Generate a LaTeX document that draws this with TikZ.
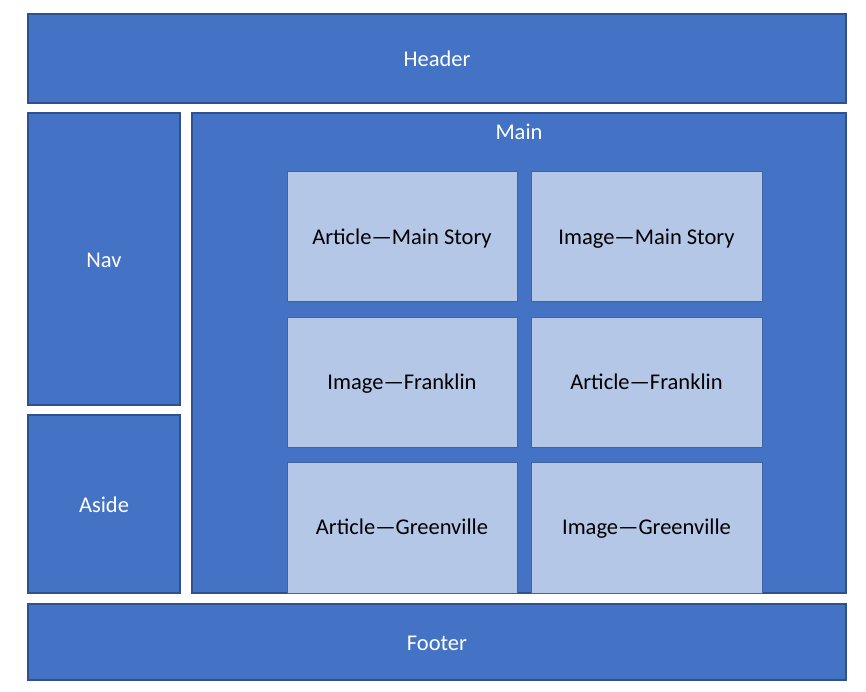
\documentclass[tikz,border=0pt]{standalone}
\usepackage{fontspec}
\setmainfont{Carlito}
\definecolor{darkfill}{HTML}{4472C4}
\definecolor{darkline}{HTML}{2F528F}
\definecolor{lightfill}{HTML}{B4C7E7}
\definecolor{lightline}{HTML}{41649F}
\begin{document}
\begin{tikzpicture}[x=1pt,y=-1pt,
  darkbox/.style={draw=darkline,fill=darkfill,line width=1.2pt},
  lightbox/.style={draw=lightline,fill=lightfill,line width=1pt},
  whitetxt/.style={text=white,font=\fontsize{22.5}{27}\selectfont},
  blacktxt/.style={text=black,font=\fontsize{22.5}{27}\selectfont,text height=0.7em,text depth=0.22em}]
\useasboundingbox (0,0) rectangle (866,691);
\fill[white] (0,0) rectangle (866,691);
% outer boxes
\draw[darkbox] (28,14) rectangle (846,103);
\node[whitetxt] (header) at (437,59) {Header};
\draw[darkbox] (28,113) rectangle (180,405);
\node[whitetxt] (nav) at (104,260) {Nav};
\draw[darkbox] (28,415) rectangle (180,593);
\node[whitetxt] (aside) at (104,505) {Aside};
\draw[darkbox] (192,113) rectangle (846,593);
\node[whitetxt] (main) at (519,131.5) {Main};
\draw[darkbox] (28,604) rectangle (846,680);
\node[whitetxt] (footer) at (437,643) {Footer};
% inner boxes
\draw[lightbox] (287,171) rectangle (517,301);
\node[blacktxt] (a1) at (402,242) {Article—Main Story};
\draw[lightbox] (531,171) rectangle (762,301);
\node[blacktxt] (i1) at (646.5,242) {Image—Main Story};
\draw[lightbox] (287,317) rectangle (517,447);
\node[blacktxt] (i2) at (402,387.5) {Image—Franklin};
\draw[lightbox] (531,317) rectangle (762,447);
\node[blacktxt] (a2) at (646.5,387.5) {Article—Franklin};
\draw[lightbox] (287,462) rectangle (517,593);
\node[blacktxt] (a3) at (402,532.5) {Article—Greenville};
\draw[lightbox] (531,462) rectangle (762,593);
\node[blacktxt] (i3) at (646.5,532.5) {Image—Greenville};
\end{tikzpicture}
\end{document}
